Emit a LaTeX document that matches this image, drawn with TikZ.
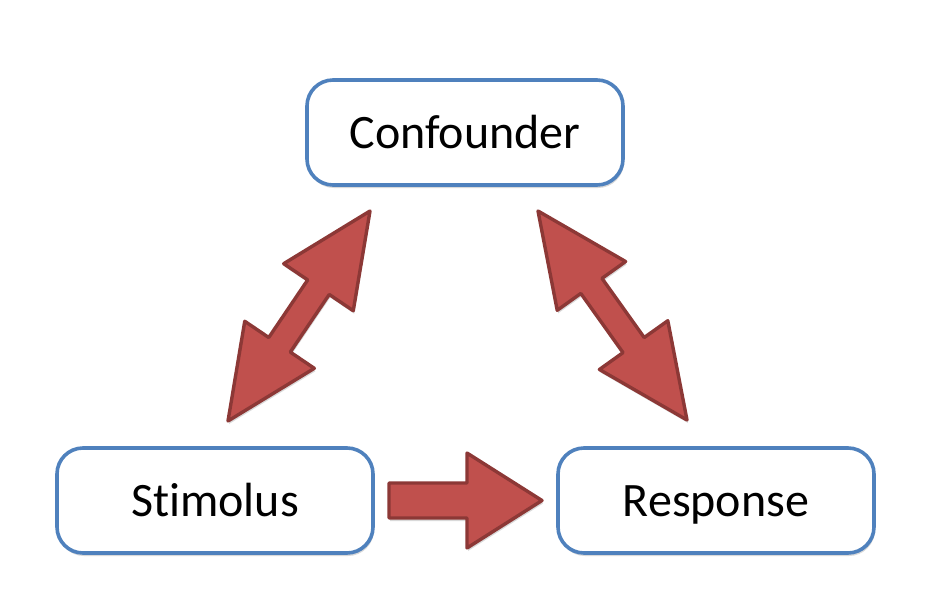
\documentclass[tikz,border=0pt]{standalone}
\usepackage{fontspec}
\setmainfont{Carlito}[Ligatures={NoCommon,NoContextual}]
\usetikzlibrary{calc,shadows}
\definecolor{boxblue}{HTML}{4F81BD}
\definecolor{arrfill}{HTML}{C0504D}
\definecolor{arrdraw}{HTML}{8C3836}
\tikzset{
  stepbox/.style={draw=boxblue, line width=3.6pt, fill=white, rounded corners=26pt,
    minimum width=316pt, minimum height=105pt, inner sep=0pt,
    text height=31pt, text depth=0pt,
    font=\fontsize{48}{52}\selectfont,
    drop shadow={shadow xshift=1pt, shadow yshift=-3pt, opacity=0.25, fill=black!60}},
  blockarrow/.style={draw=arrdraw, fill=arrfill, line width=3.4pt, line join=round,
    drop shadow={shadow xshift=1pt, shadow yshift=-3pt, opacity=0.25, fill=black!60}}
}
\newcommand{\dblarrow}[2]{%
  \path ($(#1)!92pt!(#2)$) coordinate (pA) ($(#2)!92pt!(#1)$) coordinate (pB);
  \draw[blockarrow] (#1)
    -- ($(pA)!42pt!90:(#1)$) -- ($(pA)!13pt!90:(#1)$)
    -- ($(pB)!13pt!-90:(#2)$) -- ($(pB)!42pt!-90:(#2)$)
    -- (#2)
    -- ($(pB)!42pt!90:(#2)$) -- ($(pB)!13pt!90:(#2)$)
    -- ($(pA)!13pt!-90:(#1)$) -- ($(pA)!42pt!-90:(#1)$)
    -- cycle;}
\begin{document}
\begin{tikzpicture}[x=1pt,y=-1pt]
  \useasboundingbox (0,0) rectangle (936,607);
  \node[stepbox] (conf) at (465,132.5) {Confounder};
  \node[stepbox] (stim) at (215,500.5) {Stimolus};
  \node[stepbox] (resp) at (716,500.5) {Response};
  % double arrows
  \coordinate (l1) at (370,211);
  \coordinate (l2) at (228,421);
  \coordinate (r1) at (538,211);
  \coordinate (r2) at (687,420);
  \dblarrow{l1}{l2}
  \dblarrow{r1}{r2}
  % single arrow stimolus -> response
  \coordinate (s0) at (389,500.5);
  \coordinate (s1) at (542,500.5);
  \draw[blockarrow] (s0) ++(0,-17.5) -- ++(78,0) -- ++(0,-30) -- (s1)
    -- ($(s0)+(78,47.5)$) -- ++(0,-30) -- ($(s0)+(0,17.5)$) -- cycle;
\end{tikzpicture}
\end{document}
